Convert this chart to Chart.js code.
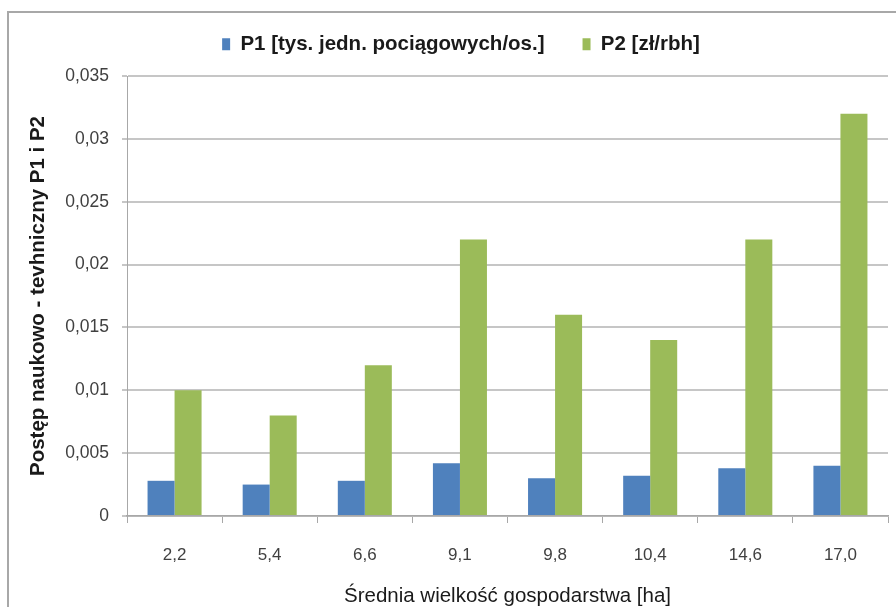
<!DOCTYPE html>
<html>
<head>
<meta charset="utf-8">
<script src="https://cdn.jsdelivr.net/npm/chart.js@4/dist/chart.umd.min.js"></script>
<style>
  html, body { margin: 0; padding: 0; background: #fff; }
  #wrap { position: relative; width: 896px; height: 607px; overflow: hidden; }
  #frame { position: absolute; left: 7px; top: 11px; width: 920px; height: 640px;
           border: 2px solid #a8a8a8; box-sizing: border-box; }
  canvas { position: absolute; left: 0; top: 0; }
</style>
</head>
<body>
<div id="wrap">
  <div id="frame"></div>
  <canvas id="c" width="896" height="607"></canvas>
</div>
<script>
// Average farm size groups (ha)
const categories = ['2,2', '5,4', '6,6', '9,1', '9,8', '10,4', '14,6', '17,0'];
// P1 – thousand draught units per person
const p1Values = [0.0028, 0.0025, 0.0028, 0.0042, 0.0030, 0.0032, 0.0038, 0.0040];
// P2 – PLN per man-hour
const p2Values = [0.010, 0.008, 0.012, 0.022, 0.016, 0.014, 0.022, 0.032];
const seriesNames = ['P1 [tys. jedn. pociągowych/os.]', 'P2 [zł/rbh]'];
const yTickLabels = ['0', '0,005', '0,01', '0,015', '0,02', '0,025', '0,03', '0,035'];

const FONT = "'Liberation Sans', Arial, sans-serif";

// Fixed legend band above the plot area, nudged slightly right and up
const legendBand = {
  id: 'legendBand',
  beforeInit(chart) {
    const fit = chart.legend.fit;
    chart.legend.fit = function () {
      fit.call(this);
      this.height = 56;
    };
  },
  afterLayout(chart) {
    chart.legend.left += 34;
    chart.legend.top -= 24;
  }
};

new Chart(document.getElementById('c'), {
  type: 'bar',
  data: {
    labels: categories,
    datasets: [
      { label: seriesNames[0], data: p1Values, backgroundColor: '#4f81bd', borderWidth: 0 },
      { label: seriesNames[1], data: p2Values, backgroundColor: '#9bbb59', borderWidth: 0 }
    ]
  },
  options: {
    responsive: false,
    devicePixelRatio: 1,
    animation: false,
    layout: { padding: { top: 20, left: 0, right: 8, bottom: 0 } },
    datasets: { bar: { barPercentage: 1, categoryPercentage: 0.568 } },
    plugins: {
      tooltip: { enabled: false },
      legend: {
        position: 'top',
        align: 'center',
        labels: {
          boxWidth: 8,
          boxHeight: 12,
          padding: 38,
          color: '#1a1a1a',
          font: { family: FONT, size: 20.5, weight: 'bold' }
        }
      }
    },
    scales: {
      x: {
        afterFit(s) { s.height = 91; },
        grid: { display: true, drawOnChartArea: false, drawTicks: true, tickLength: 7,
                offset: true, color: '#a8a8a8', lineWidth: 1 },
        border: { display: true, color: '#a8a8a8', width: 1.5 },
        ticks: { color: '#404040', padding: 22, font: { family: FONT, size: 17 } },
        title: {
          display: true,
          text: 'Średnia wielkość gospodarstwa [ha]',
          color: '#1a1a1a',
          font: { family: FONT, size: 20.5, lineHeight: 1 },
          padding: { top: 0, bottom: 0 }
        }
      },
      y: {
        min: 0,
        max: 0.035,
        afterFit(s) { s.width = 127; },
        grid: { color: '#c6c6c6', lineWidth: 2, drawTicks: true, tickLength: 5 },
        border: { display: true, color: '#a8a8a8', width: 1 },
        ticks: {
          stepSize: 0.005,
          color: '#404040',
          padding: 13,
          font: { family: FONT, size: 17.5 },
          callback: (v, i) => yTickLabels[i]
        },
        title: {
          display: true,
          text: 'Postęp naukowo - tevhniczny P1 i P2',
          color: '#1a1a1a',
          font: { family: FONT, size: 20.5, weight: 'bold', lineHeight: 1.2 },
          padding: { top: 26, bottom: 0 }
        }
      }
    }
  },
  plugins: [legendBand]
});
</script>
</body>
</html>
